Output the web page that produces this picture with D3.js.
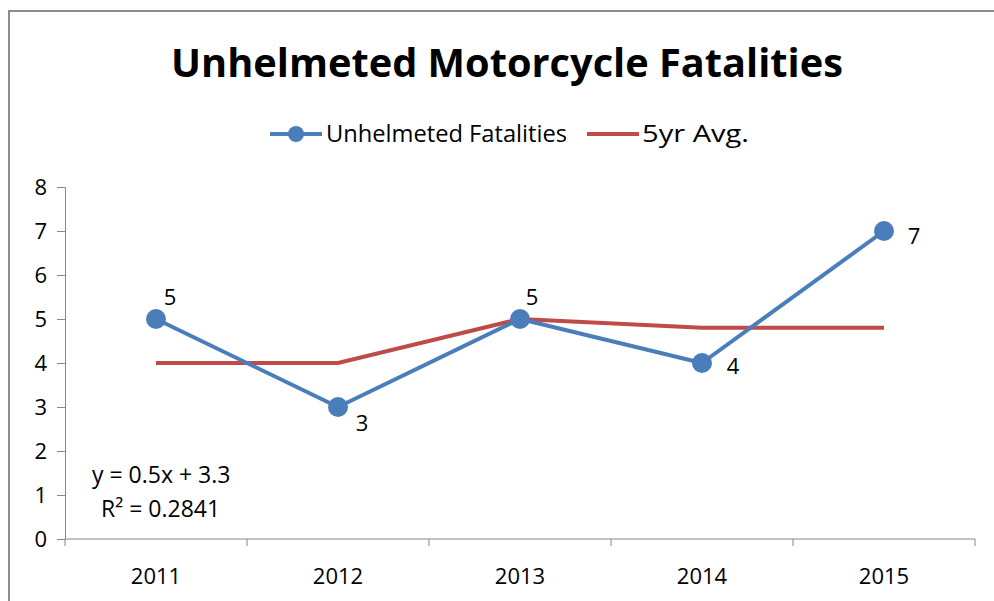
<!DOCTYPE html>
<html>
<head>
<meta charset="utf-8">
<script src="https://cdn.jsdelivr.net/npm/d3@7"></script>
<style>
  body { margin: 0; background: #fff; }
  text { font-family: "Open Sans", "Noto Sans", sans-serif; fill: #000; }
</style>
</head>
<body>
<div id="chart"></div>
<script>
// Chart data
const years = ["2011", "2012", "2013", "2014", "2015"];
const fatalities = [5, 3, 5, 4, 7];
const fiveYrAvg = [4, 4, 5, 4.8, 4.8];
const yTicks = [0, 1, 2, 3, 4, 5, 6, 7, 8];
const seriesNames = ["Unhelmeted Fatalities", "5yr Avg."];
const trendText = ["y = 0.5x + 3.3", "R\u00b2 = 0.2841"];

const width = 994;
const height = 601;
const blue = "#4a7ebb";
const red = "#be4b48";
const axisColor = "#868686";

const svg = d3.select("#chart")
  .append("svg")
    .attr("width", width)
    .attr("height", height);

// Chart area border (runs off the right and bottom edges)
svg.append("rect")
  .attr("x", 9)
  .attr("y", 11)
  .attr("width", 1000)
  .attr("height", 620)
  .attr("fill", "none")
  .attr("stroke", "#8c8c8c")
  .attr("stroke-width", 2);

// Title, fitted to the reference width
svg.append("text")
  .attr("x", 507)
  .attr("y", 77)
  .attr("text-anchor", "middle")
  .style("font-weight", "bold")
  .style("font-size", "40px")
  .attr("textLength", 672)
  .attr("lengthAdjust", "spacingAndGlyphs")
  .text("Unhelmeted Motorcycle Fatalities");

// Scales
const x = d3.scaleBand()
  .domain(years)
  .range([65, 975]);

const y = d3.scaleLinear()
  .domain([0, 8])
  .range([539, 187]);

// Y axis
const yAxis = svg.append("g")
  .attr("transform", "translate(65,0)")
  .call(d3.axisLeft(y).tickValues(yTicks).tickSize(8).tickPadding(10));
yAxis.select(".domain").attr("stroke", axisColor);
yAxis.selectAll(".tick line").attr("stroke", axisColor);
yAxis.selectAll(".tick text")
  .style("font-size", "22px")
  .style("font-family", "\"Open Sans\", sans-serif")
  .attr("fill", "#000");

// X axis with ticks between categories
const xAxis = svg.append("g")
  .attr("transform", "translate(0,539)");
xAxis.append("line")
  .attr("x1", x.range()[0]).attr("x2", x.range()[1])
  .attr("stroke", axisColor);
const boundaries = years.map(d => x(d)).concat([x.range()[1]]);
xAxis.selectAll(".tk")
  .data(boundaries)
  .enter()
  .append("line")
    .attr("x1", d => d).attr("x2", d => d)
    .attr("y1", 0).attr("y2", 7)
    .attr("stroke", axisColor);
xAxis.selectAll(".lbl")
  .data(years)
  .enter()
  .append("text")
    .attr("x", d => x(d) + x.bandwidth() / 2)
    .attr("y", 45)
    .attr("text-anchor", "middle")
    .style("font-size", "22px")
    .text(d => d);

const cx = d => x(d) + x.bandwidth() / 2;

// 5yr average line
svg.append("path")
  .datum(fiveYrAvg)
  .attr("fill", "none")
  .attr("stroke", red)
  .attr("stroke-width", 4)
  .attr("d", d3.line().x((d, i) => cx(years[i])).y(d => y(d)));

// Fatalities line + markers
svg.append("path")
  .datum(fatalities)
  .attr("fill", "none")
  .attr("stroke", blue)
  .attr("stroke-width", 4)
  .attr("stroke-linejoin", "round")
  .attr("d", d3.line().x((d, i) => cx(years[i])).y(d => y(d)));

svg.selectAll(".marker")
  .data(fatalities)
  .enter()
  .append("circle")
    .attr("cx", (d, i) => cx(years[i]))
    .attr("cy", d => y(d))
    .attr("r", 10)
    .attr("fill", blue);

// Data labels (offsets follow the reference placement)
const labelOffsets = [[14, -14], [24, 24], [12, -14], [31, 11], [30, 13]];
svg.selectAll(".dlabel")
  .data(fatalities)
  .enter()
  .append("text")
    .attr("x", (d, i) => cx(years[i]) + labelOffsets[i][0])
    .attr("y", (d, i) => y(d) + labelOffsets[i][1])
    .attr("text-anchor", "middle")
    .style("font-size", "22px")
    .text(d => d);

// Legend
const legend = svg.append("g").attr("transform", "translate(0,134)");
legend.append("line")
  .attr("x1", 270).attr("x2", 322)
  .attr("stroke", blue).attr("stroke-width", 4);
legend.append("circle")
  .attr("cx", 296).attr("r", 8).attr("fill", blue);
legend.append("text")
  .attr("x", 326).attr("y", 8)
  .style("font-size", "23px")
  .attr("textLength", 241)
  .attr("lengthAdjust", "spacingAndGlyphs")
  .text(seriesNames[0]);
legend.append("line")
  .attr("x1", 587).attr("x2", 639)
  .attr("stroke", red).attr("stroke-width", 4);
legend.append("text")
  .attr("x", 642).attr("y", 8)
  .style("font-size", "23px")
  .attr("textLength", 107)
  .attr("lengthAdjust", "spacingAndGlyphs")
  .text(seriesNames[1]);

// Trendline equation
svg.append("text")
  .attr("x", 92).attr("y", 483)
  .style("font-size", "23px")
  .text(trendText[0]);
svg.append("text")
  .attr("x", 101).attr("y", 517)
  .style("font-size", "23px")
  .text(trendText[1]);
</script>
</body>
</html>
